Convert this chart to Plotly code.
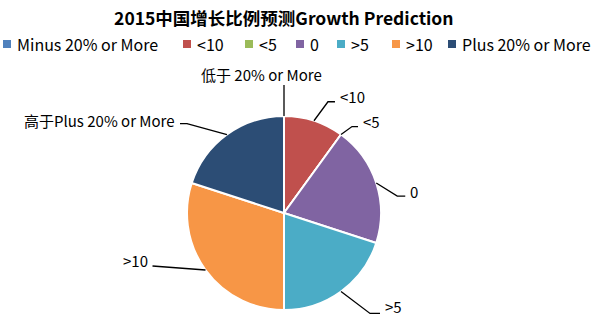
import math
import plotly.graph_objects as go

title = "2015中国增长比例预测Growth Prediction"
categories = ["Minus 20% or More", "<10", "<5", "0", ">5", ">10", "Plus 20% or More"]
values = [0, 10, 0, 20, 20, 30, 20]
slice_labels = ["低于 20% or More", "<10", "<5", "0", ">5", ">10", "高于Plus 20% or More"]
colors = ["#4F81BD", "#C0504D", "#9BBB59", "#8064A2", "#4BACC6", "#F79646", "#2C4D75"]

W, H = 600, 324
CX, CY, R = 284, 213, 97
# leader line layout (pixels): elbow offset from slice edge, horizontal tail, text offset
elbow = [(0, -31), (14, -19), (11, -8), (21, 13), (29, 22), (-53, -4), (-40, -11)]
tail = [0, 7, 6, 8, 10, 0, -7]
text_off = [(-23, -11), (3, -5), (3, -5), (3, -5), (3, -7), (-3, -6), (-3, -3)]
text_anchor = ["center", "left", "left", "left", "left", "right", "right"]
# legend layout (pixels): left edge of each key square, row centre
legend_x = [3, 183, 245, 296, 337, 392, 448]
LEGEND_Y = 44
KEY = 8

FONT = "Noto Sans CJK SC"

def px(x):
    return x / W

def py(y):
    return 1 - y / H

fig = go.Figure(go.Pie(
    labels=categories, values=values, sort=False, direction="clockwise", rotation=0,
    marker=dict(colors=colors, line=dict(color="white", width=2)),
    textinfo="none", hoverinfo="label+value", showlegend=False,
    domain=dict(x=[px(CX - R), px(CX + R)], y=[py(CY + R), py(CY - R)]),
))

total = sum(values)
cum = 0
shapes, annotations = [], []
for i, v in enumerate(values):
    ang = 2 * math.pi * (cum + v / 2) / total
    cum += v
    ax, ay = CX + R * math.sin(ang), CY - R * math.cos(ang)
    ex, ey = ax + elbow[i][0], ay + elbow[i][1]
    tx = ex + tail[i]
    shapes.append(dict(type="path", xref="paper", yref="paper",
                       path=f"M {px(ax)},{py(ay)} L {px(ex)},{py(ey)} L {px(tx)},{py(ey)}",
                       line=dict(color="black", width=1.3)))
    annotations.append(dict(x=px(tx + text_off[i][0]), y=py(ey + text_off[i][1]),
                            xref="paper", yref="paper", text=slice_labels[i], showarrow=False,
                            xanchor=text_anchor[i], yanchor="middle",
                            font=dict(family=FONT, size=15, color="black")))

# legend: colour key squares with category names
for i, name in enumerate(categories):
    x0 = legend_x[i]
    shapes.append(dict(type="rect", xref="paper", yref="paper",
                       x0=px(x0), x1=px(x0 + KEY), y0=py(LEGEND_Y + KEY / 2), y1=py(LEGEND_Y - KEY / 2),
                       fillcolor=colors[i], line=dict(width=0)))
    annotations.append(dict(x=px(x0 + KEY + 4), y=py(LEGEND_Y), xref="paper", yref="paper",
                            text=name, showarrow=False, xanchor="left", yanchor="middle",
                            font=dict(family=FONT, size=16, color="black")))

fig.update_layout(
    width=W, height=H, margin=dict(l=0, r=0, t=0, b=0),
    paper_bgcolor="white", plot_bgcolor="white", showlegend=False,
    title=dict(text="<b>" + title + "</b>", x=0.473, xanchor="center", y=py(19), yanchor="middle",
               font=dict(family=FONT, size=17.5, color="black")),
    shapes=shapes, annotations=annotations,
)

fig.write_html("out.html")
